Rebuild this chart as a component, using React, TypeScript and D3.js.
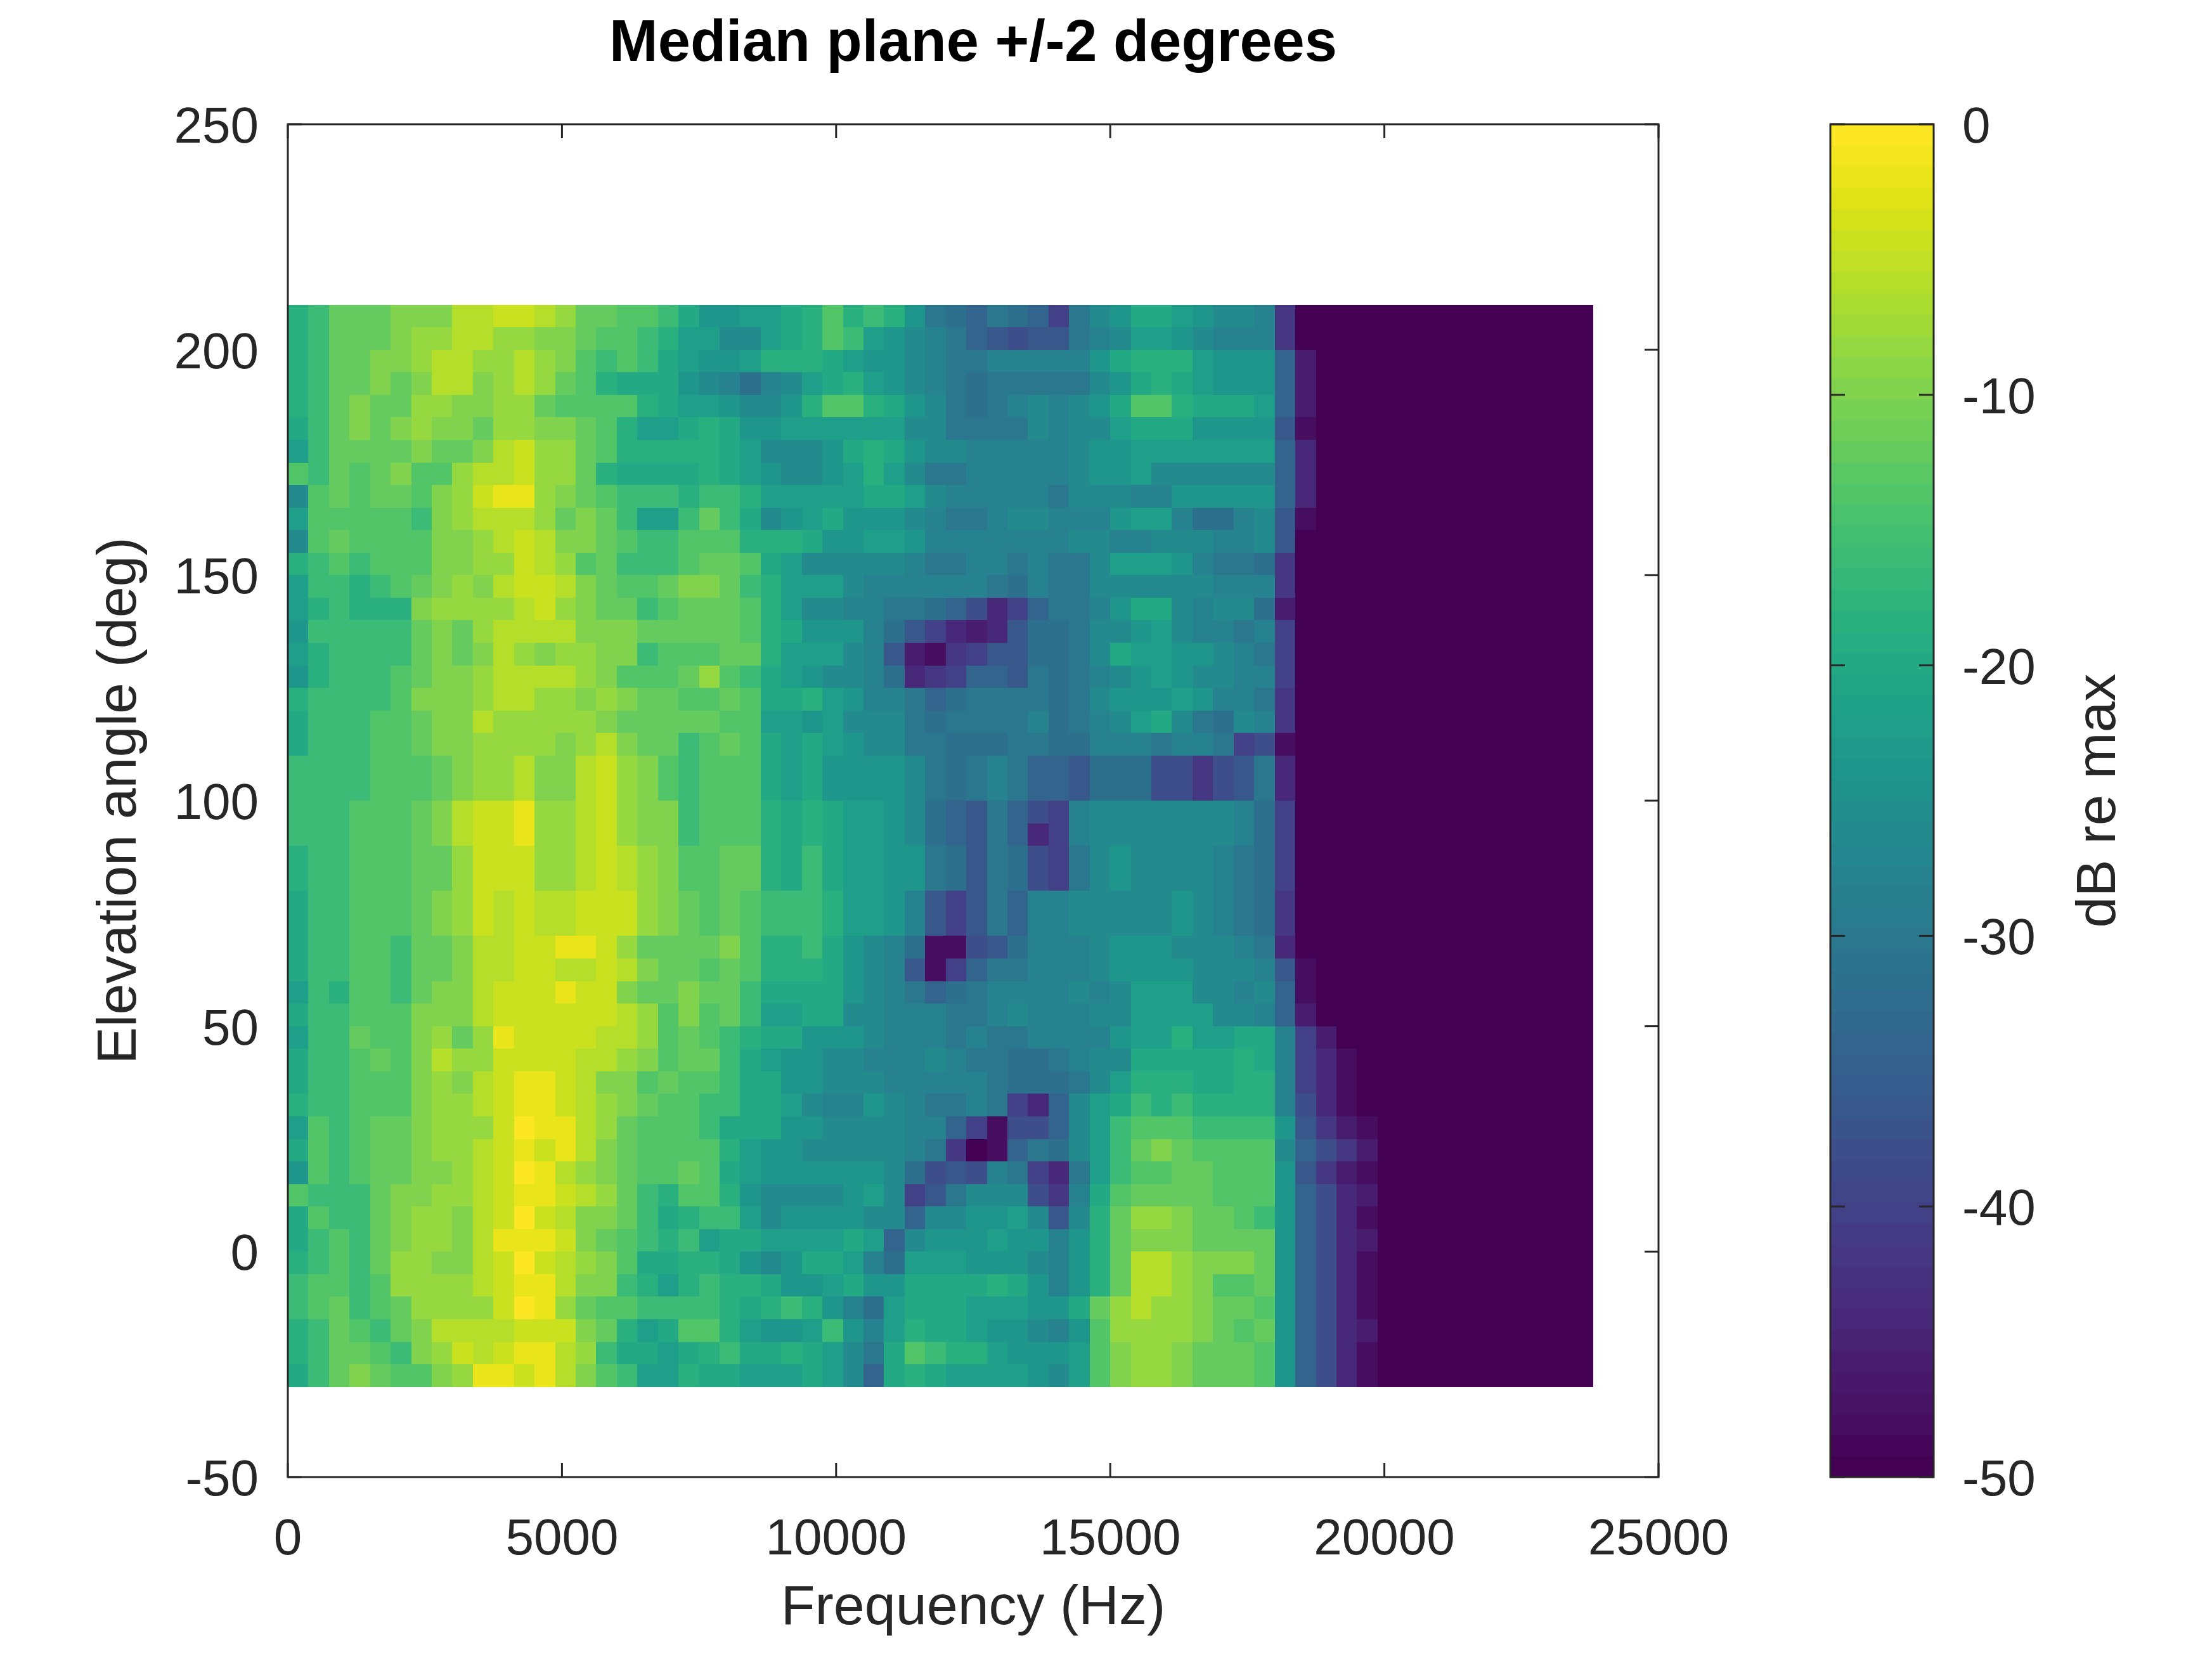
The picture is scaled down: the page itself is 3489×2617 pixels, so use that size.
import * as d3 from "d3"

// axis ticks
const freqTicks = [0, 5000, 10000, 15000, 20000, 25000]
const elevTicks = [-50, 0, 50, 100, 150, 200, 250]
const dbTicks = [0, -10, -20, -30, -40, -50]

// lower edge of each elevation row (deg), top row first
const rowElevations = [
  205, 200, 195, 190, 185, 180, 175, 170, 165, 160, 155, 150, 145, 140, 135, 130,
  125, 120, 115, 110, 105, 100, 95, 90, 85, 80, 75, 70, 65, 60, 55, 50,
  45, 40, 35, 30, 25, 20, 15, 10, 5, 0, -5, -10, -15, -20, -25, -30,
]

// lower edge of each frequency column (Hz)
const colFrequencies = [
  0, 375, 750, 1125, 1500, 1875, 2250, 2625, 3000, 3375, 3750, 4125, 4500, 4875,
  5250, 5625, 6000, 6375, 6750, 7125, 7500, 7875, 8250, 8625, 9000, 9375, 9750,
  10125, 10500, 10875, 11250, 11625, 12000, 12375, 12750, 13125, 13500, 13875,
  14250, 14625, 15000, 15375, 15750, 16125, 16500, 16875, 17250, 17625, 18000,
  18375, 18750, 19125, 19500, 19875,
]

// extent of the measured spectrum; cells not listed below sit at the floor
const dataTopDeg = 210
const dataBottomDeg = -30
const dataMaxHz = 23812.5
const floorDb = -50

// one letter per cell: a = 0 dB, b = -2 dB ... z = -50 dB
const dbRows = [
  "jigggfffddccdegghhi" + "kmmllkjhjijmpqrpqr" + "upnmkklmnnovz",
  "jigggfeeddeeffghhij" + "llnnlkjhilmnoprsts" + "sponllmnooovz",
  "jiggffeddeedefhihik" + "lmmljjjklmmnoppooo" + "oomkjjjlmmmrxz",
  "jiggfgfddfedeghjkkk" + "mnoqonlkjlmnopqppp" + "ppnmkjklmmmrxz",
  "jigfggeeffeeghhhhjk" + "llmnnmjhhjkmnpqpon" + "onmkhhjkkklrxz",
  "kigfgfeffgeeffghjll" + "kjkmmllllllnnppppn" + "onnlkkkmmmmsyz",
  "liggggfggfdceeghjjj" + "jjklnnnmkjkmnnoooo" + "onmmlllllllrwz",
  "highgfhheddceegjkkk" + "kjklmnnmljlnppoooo" + "onmmlnnnnnnrwz",
  "nhghgghfecbbefghiii" + "jiijlllllkklnooooo" + "pnnnoommmmmrwz",
  "lhhhhhifedddegfgill" + "igiknmlkmmmnopponn" + "ooomlloqqonsyz",
  "nhghhhhffedcdffghii" + "hhhjjjkmmllmoooooo" + "onnoonnnoonsz",
  "jihihhhffeecdehgiii" + "hgghklnnnnnoppoopo" + "ppnlllmoppqvz",
  "liijihgfefdccdfghhg" + "ffgijlllnoooooopqo" + "ppnnnnnnooovz",
  "ljijjjfeeeedcefggih" + "ggghjlnnooppqrtwur" + "ppomkknonnqxz",
  "miiiiigfgeddddfffgg" + "ggghjkmmmoqsuwxwsq" + "qpnnmlnoopouz",
  "ljiiiigfgfdefeeffih" + "hhggjlllnosxyvussq" + "qpnkllmmnopuz",
  "mjiiihgffeddddefhhh" + "gehiklmnnoqwvurrsp" + "qponmlmnnoouz",
  "jiiiihfffeddeefefgg" + "hhghkkjlmooprqpppp" + "qpnmmmlmoopvz",
  "kiiihhgffdeeeeefggg" + "gghhllmlnnnpqppppo" + "qponlknpqnovz",
  "kiiihhgffeeeefedfgg" + "ihghklklmnnppqqqpp" + "qqooopooputyz",
  "iiiihhhgfeedffdcefh" + "ihhhklkmmmmnpqpopr" + "rsqqqttvtspwz",
  "iiiihhhgfeedffdcefh" + "ihhhklkmmmmnpqpopr" + "rsqqqttvtspwz",
  "iiihhhgfdccbeedceff" + "ihhhjkjkllmnqrsprt" + "uonnnnnnnoquz",
  "iiihhhgfdccbeedceff" + "ihhhjkjkllmnqrsprw" + "uonnnnnnnoquz",
  "jiihhhggeccceedcdef" + "hhggjkikllmmpqspqt" + "upnmnnnnopquz",
  "jiihhhggeccceedcdef" + "hhggjkikllmmpqspqt" + "upnmnnnnopquz",
  "kiihhhgfecdcddcccef" + "ghghiiijllmosuspro" + "onnnnnmnopqvz",
  "kiihhhgfecdcddcccef" + "ghghiiijllmosuspro" + "onnnnnmnopqvz",
  "kiihhiggfddccbbcegg" + "ggfhjjikmnoqyytsqo" + "oonmmmnnnopwz",
  "kiihhiggfddccddcdfg" + "ghghjjjkmnosyurppo" + "oonmmmmnnnosyz",
  "lijhhigffdcccbccfgg" + "fggikkkkmnoprqpooo" + "ononlllnnonryz",
  "kiihhhfffdccccccdeh" + "fhgillkknnoooppono" + "oonnllllnnorxz",
  "liighhfegebccccddeh" + "ghijkkmmmnooopoppo" + "ooomlljllkkouxz",
  "kiihghfdeeccccddefh" + "ggiklmmnnooonoppqq" + "ponnkkkkkjkouwyz",
  "kiihhhfefdcbbcdffhg" + "hhikkmmnnnooooopqq" + "qpnljjjkkjjouwyz",
  "jiihhhfeedcbbcdefgh" + "hiikklnoomnoppopuw" + "rnlkijijjjjotwyz",
  "lhihggfeeecabbdeghh" + "hikkkmmnnnnooruytt" + "rnlihhhiiiimsvxyz",
  "khihggfeedcbcbdfghh" + "hhjlmmnnnnnopvzyrp" + "qnligfghhhhnrtvxz",
  "mhihggffedcabdefghh" + "ghklmmmmmmnqtstopu" + "wplihhgghhhmsvxyz",
  "hiiigffeedcbbcdegij" + "hhjmnnnnmlnuspnnnt" + "vokhgggghhhmrtwxz",
  "khiigfeefdcacdffgik" + "jiilnmmmmnnrnnmmln" + "snjgeefgghimrtwyz",
  "kihigfeefdbbbcfghij" + "ilkkllllklrnmmmlmm" + "omjgfffggggmrtwxz",
  "jihigeeffdcacdefhkk" + "jjkmnmkkloqlllmmmn" + "omjgddefffgmrtwyz",
  "ihhiheeeedcbbdffijl" + "jijjkmmlkmmkkkkjkm" + "omjgddefhhgmrtwyz",
  "ihgihgeeeecabeghhii" + "iijkjijmoqlkkklllm" + "mkgedeefgghmrtwyz",
  "jighigfddddcccfgjlk" + "hhjlmmlimoljkklmmn" + "omheeeefghgmrtwxz",
  "jigghifecdcbbdeikkl" + "kjikkjklnpkhijjlmm" + "mlhfeefggghmrtwyz",
  "kigfghhfebbcbdfhill" + "jkklllklnrkjkllllm" + "nlhfeefggghmrtwyz",
]

const W = 3489
const H = 2617
const font = "'Liberation Sans', Arial, Helvetica, sans-serif"
const ink = "#262626"

const x = d3.scaleLinear().domain([0, 25000]).range([454, 2616])
const y = d3.scaleLinear().domain([-50, 250]).range([2330, 196])
const cbY = d3.scaleLinear().domain([-50, 0]).range([2330, 196])
const cbLeft = 2887
const cbRight = 3050

// 64-step colormap, like the stepped colorbar
const nLevels = 64
const palette = d3.range(nLevels).map((i) => d3.interpolateViridis(i / (nLevels - 1)))
const colorOf = (db: number) => {
  const idx = Math.floor(((db + 50) / 50) * nLevels)
  return palette[Math.max(0, Math.min(nLevels - 1, idx))]
}
const letterDb = (ch: string) => -2 * (ch.charCodeAt(0) - 97)

export default function App() {
  const rowStep = rowElevations[0] - rowElevations[1]
  const colStep = colFrequencies[1] - colFrequencies[0]
  const [x0, x1] = x.range()
  const [y0, y1] = y.range()

  const cells: JSX.Element[] = []
  dbRows.forEach((row, r) => {
    const e = rowElevations[r]
    const top = y(e + rowStep)
    const h = y(e) - top
    row.split("").forEach((ch, j) => {
      const f = colFrequencies[j]
      if (f === undefined) return
      cells.push(
        <rect
          key={`${r}-${j}`}
          x={x(f)}
          y={top}
          width={x(f + colStep) - x(f) + 0.6}
          height={h + 0.6}
          fill={colorOf(letterDb(ch))}
        />
      )
    })
  })

  const bands = palette.map((c, i) => {
    const lo = -50 + (i * 50) / nLevels
    const hi = -50 + ((i + 1) * 50) / nLevels
    return <rect key={i} x={cbLeft} y={cbY(hi)} width={cbRight - cbLeft} height={cbY(lo) - cbY(hi) + 0.6} fill={c} />
  })

  const tickLen = 22

  return (
    <svg
      width={W}
      height={H}
      viewBox={`0 0 ${W} ${H}`}
      style={{ position: "absolute", left: 0, top: 0, background: "#fff" }}
      fontFamily={font}
    >
      <rect x={0} y={0} width={W} height={H} fill="#fff" />

      {/* ticks (the image is drawn over them) */}
      <g stroke={ink} strokeWidth={3}>
        {freqTicks.map((t) => (
          <g key={t}>
            <line x1={x(t)} x2={x(t)} y1={y0} y2={y0 - tickLen} />
            <line x1={x(t)} x2={x(t)} y1={y1} y2={y1 + tickLen} />
          </g>
        ))}
        {elevTicks.map((t) => (
          <g key={t}>
            <line x1={x0} x2={x0 + tickLen} y1={y(t)} y2={y(t)} />
            <line x1={x1} x2={x1 - tickLen} y1={y(t)} y2={y(t)} />
          </g>
        ))}
      </g>

      {/* spectrum */}
      <g shapeRendering="crispEdges">
        <rect
          x={x(0)}
          y={y(dataTopDeg)}
          width={x(dataMaxHz) - x(0)}
          height={y(dataBottomDeg) - y(dataTopDeg)}
          fill={colorOf(floorDb)}
        />
        {cells}
      </g>

      {/* axes box */}
      <rect x={x0} y={y1} width={x1 - x0} height={y0 - y1} fill="none" stroke={ink} strokeWidth={3} />

      {/* tick labels */}
      <g fill={ink} fontSize={80}>
        {freqTicks.map((t) => (
          <text key={t} x={x(t)} y={2452} textAnchor="middle">
            {t}
          </text>
        ))}
        {elevTicks.map((t) => (
          <text key={t} x={408} y={y(t) + 29} textAnchor="end">
            {t}
          </text>
        ))}
      </g>

      {/* axis labels and title */}
      <text x={(x0 + x1) / 2} y={2562} textAnchor="middle" fontSize={88} fill={ink}>
        Frequency (Hz)
      </text>
      <text
        transform={`translate(214, ${(y0 + y1) / 2}) rotate(-90)`}
        textAnchor="middle"
        fontSize={88}
        fill={ink}
      >
        Elevation angle (deg)
      </text>
      <text x={(x0 + x1) / 2} y={96} textAnchor="middle" fontSize={92} fontWeight="bold" fill="#000">
        Median plane +/-2 degrees
      </text>

      {/* colorbar */}
      <g shapeRendering="crispEdges">{bands}</g>
      <rect
        x={cbLeft}
        y={cbY(0)}
        width={cbRight - cbLeft}
        height={cbY(-50) - cbY(0)}
        fill="none"
        stroke={ink}
        strokeWidth={3}
      />
      <g stroke={ink} strokeWidth={3}>
        {dbTicks.map((t) => (
          <g key={t}>
            <line x1={cbLeft} x2={cbLeft + 23} y1={cbY(t)} y2={cbY(t)} />
            <line x1={cbRight} x2={cbRight - 23} y1={cbY(t)} y2={cbY(t)} />
          </g>
        ))}
      </g>
      <g fill={ink} fontSize={80}>
        {dbTicks.map((t) => (
          <text key={t} x={3095} y={cbY(t) + 29}>
            {t}
          </text>
        ))}
      </g>
      <text
        transform={`translate(3336, ${(cbY(0) + cbY(-50)) / 2}) rotate(-90)`}
        textAnchor="middle"
        fontSize={88}
        fill={ink}
      >
        dB re max
      </text>
    </svg>
  )
}
